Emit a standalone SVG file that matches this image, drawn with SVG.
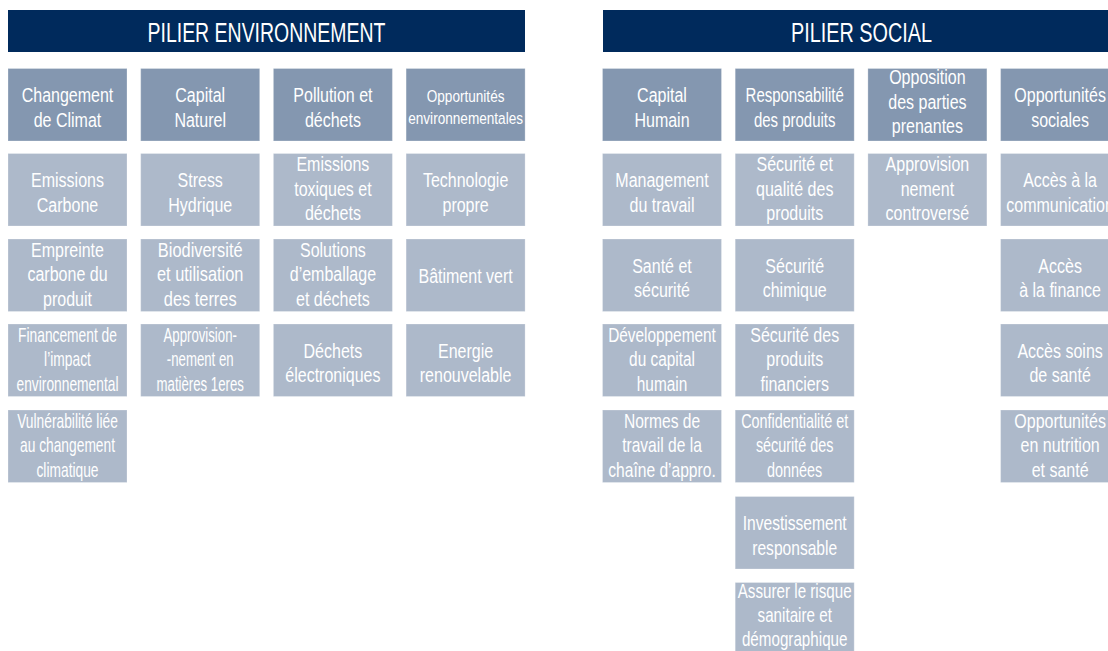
<svg xmlns="http://www.w3.org/2000/svg" width="1108" height="651" viewBox="0 0 1108 651">
<defs>
<style>
.hd{fill:#002a5c}
.d{fill:#8497b0;stroke:#ffffff;stroke-opacity:0.25;stroke-width:1}
.l{fill:#adb9ca;stroke:#ffffff;stroke-opacity:0.25;stroke-width:1}
.h{font-family:"Liberation Sans",Arial,sans-serif;font-size:27px;fill:#ffffff;text-anchor:middle}
.t{font-family:"Liberation Sans",Arial,sans-serif;font-size:20px;fill:#ffffff;text-anchor:middle}
.s{font-family:"Liberation Sans",Arial,sans-serif;font-size:17px;fill:#ffffff;text-anchor:middle}
</style>
</defs>
<rect width="1108" height="651" fill="#ffffff"/>
<g id="connectors"></g>

<g id="hdr-env"><rect class="hd" x="8" y="10" width="517" height="42"/><text class="h" x="266.5" y="41.5" textLength="238" lengthAdjust="spacingAndGlyphs">PILIER ENVIRONNEMENT</text></g>
<g id="hdr-soc"><rect class="hd" x="603" y="10" width="505" height="42"/><text class="h" x="861.5" y="41.5" textLength="141" lengthAdjust="spacingAndGlyphs">PILIER SOCIAL</text></g>

<!-- ENV col 1 -->
<g id="e11"><rect class="d" x="8" y="68.5" width="119" height="72.5"/><text class="t" transform="translate(67.5,0) scale(0.8,1)"><tspan x="0" y="102.5">Changement</tspan><tspan x="0" y="127">de Climat</tspan></text></g>
<g id="e12"><rect class="l" x="8" y="153.5" width="119" height="72.5"/><text class="t" transform="translate(67.5,0) scale(0.8,1)"><tspan x="0" y="187.5">Emissions</tspan><tspan x="0" y="212">Carbone</tspan></text></g>
<g id="e13"><rect class="l" x="8" y="239" width="119" height="72.5"/><text class="t" transform="translate(67.5,0) scale(0.8,1)"><tspan x="0" y="256.75">Empreinte</tspan><tspan x="0" y="281.25">carbone du</tspan><tspan x="0" y="305.75">produit</tspan></text></g>
<g id="e14"><rect class="l" x="8" y="324" width="119" height="72.5"/><text class="t" transform="translate(67.5,0) scale(0.69,1)"><tspan x="0" y="341.75">Financement de</tspan><tspan x="0" y="366.25">l’impact</tspan><tspan x="0" y="390.75">environnemental</tspan></text></g>
<g id="e15"><rect class="l" x="8" y="410" width="119" height="72.5"/><text class="t" transform="translate(67.5,0) scale(0.69,1)"><tspan x="0" y="427.75">Vulnérabilité liée</tspan><tspan x="0" y="452.25">au changement</tspan><tspan x="0" y="476.75">climatique</tspan></text></g>

<!-- ENV col 2 -->
<g id="e21"><rect class="d" x="140.7" y="68.5" width="119" height="72.5"/><text class="t" transform="translate(200.2,0) scale(0.8,1)"><tspan x="0" y="102.5">Capital</tspan><tspan x="0" y="127">Naturel</tspan></text></g>
<g id="e22"><rect class="l" x="140.7" y="153.5" width="119" height="72.5"/><text class="t" transform="translate(200.2,0) scale(0.8,1)"><tspan x="0" y="187.5">Stress</tspan><tspan x="0" y="212">Hydrique</tspan></text></g>
<g id="e23"><rect class="l" x="140.7" y="239" width="119" height="72.5"/><text class="t" transform="translate(200.2,0) scale(0.82,1)"><tspan x="0" y="256.75">Biodiversité</tspan><tspan x="0" y="281.25">et utilisation</tspan><tspan x="0" y="305.75">des terres</tspan></text></g>
<g id="e24"><rect class="l" x="140.7" y="324" width="119" height="72.5"/><text class="t" transform="translate(200.2,0) scale(0.66,1)"><tspan x="0" y="341.75">Approvision-</tspan><tspan x="0" y="366.25">-nement en</tspan><tspan x="0" y="390.75">matières 1eres</tspan></text></g>

<!-- ENV col 3 -->
<g id="e31"><rect class="d" x="273.4" y="68.5" width="119" height="72.5"/><text class="t" transform="translate(332.9,0) scale(0.8,1)"><tspan x="0" y="102.5">Pollution et</tspan><tspan x="0" y="127">déchets</tspan></text></g>
<g id="e32"><rect class="l" x="273.4" y="153.5" width="119" height="72.5"/><text class="t" transform="translate(332.9,0) scale(0.8,1)"><tspan x="0" y="171.25">Emissions</tspan><tspan x="0" y="195.75">toxiques et</tspan><tspan x="0" y="220.25">déchets</tspan></text></g>
<g id="e33"><rect class="l" x="273.4" y="239" width="119" height="72.5"/><text class="t" transform="translate(332.9,0) scale(0.8,1)"><tspan x="0" y="256.75">Solutions</tspan><tspan x="0" y="281.25">d’emballage</tspan><tspan x="0" y="305.75">et déchets</tspan></text></g>
<g id="e34"><rect class="l" x="273.4" y="324" width="119" height="72.5"/><text class="t" transform="translate(332.9,0) scale(0.8,1)"><tspan x="0" y="358">Déchets</tspan><tspan x="0" y="382.5">électroniques</tspan></text></g>

<!-- ENV col 4 -->
<g id="e41"><rect class="d" x="406.1" y="68.5" width="119" height="72.5"/><text class="s" transform="translate(465.6,0) scale(0.8,1)"><tspan x="0" y="102.5">Opportunités</tspan><tspan x="0" y="124.5">environnementales</tspan></text></g>
<g id="e42"><rect class="l" x="406.1" y="153.5" width="119" height="72.5"/><text class="t" transform="translate(465.6,0) scale(0.8,1)"><tspan x="0" y="187.5">Technologie</tspan><tspan x="0" y="212">propre</tspan></text></g>
<g id="e43"><rect class="l" x="406.1" y="239" width="119" height="72.5"/><text class="t" transform="translate(465.6,0) scale(0.8,1)"><tspan x="0" y="283.25">Bâtiment vert</tspan></text></g>
<g id="e44"><rect class="l" x="406.1" y="324" width="119" height="72.5"/><text class="t" transform="translate(465.6,0) scale(0.8,1)"><tspan x="0" y="358">Energie</tspan><tspan x="0" y="382.5">renouvelable</tspan></text></g>

<!-- SOCIAL col 1 -->
<g id="s11"><rect class="d" x="602.5" y="68.5" width="119" height="72.5"/><text class="t" transform="translate(662,0) scale(0.8,1)"><tspan x="0" y="102.5">Capital</tspan><tspan x="0" y="127">Humain</tspan></text></g>
<g id="s12"><rect class="l" x="602.5" y="153.5" width="119" height="72.5"/><text class="t" transform="translate(662,0) scale(0.8,1)"><tspan x="0" y="187.5">Management</tspan><tspan x="0" y="212">du travail</tspan></text></g>
<g id="s13"><rect class="l" x="602.5" y="239" width="119" height="72.5"/><text class="t" transform="translate(662,0) scale(0.8,1)"><tspan x="0" y="273">Santé et</tspan><tspan x="0" y="297.5">sécurité</tspan></text></g>
<g id="s14"><rect class="l" x="602.5" y="324" width="119" height="72.5"/><text class="t" transform="translate(662,0) scale(0.77,1)"><tspan x="0" y="341.75">Développement</tspan><tspan x="0" y="366.25">du capital</tspan><tspan x="0" y="390.75">humain</tspan></text></g>
<g id="s15"><rect class="l" x="602.5" y="410" width="119" height="72.5"/><text class="t" transform="translate(662,0) scale(0.78,1)"><tspan x="0" y="427.75">Normes de</tspan><tspan x="0" y="452.25">travail de la</tspan><tspan x="0" y="476.75">chaîne d’appro.</tspan></text></g>

<!-- SOCIAL col 2 -->
<g id="s21"><rect class="d" x="735.2" y="68.5" width="119" height="72.5"/><text class="t" transform="translate(794.7,0) scale(0.75,1)"><tspan x="0" y="102.5">Responsabilité</tspan><tspan x="0" y="127">des produits</tspan></text></g>
<g id="s22"><rect class="l" x="735.2" y="153.5" width="119" height="72.5"/><text class="t" transform="translate(794.7,0) scale(0.8,1)"><tspan x="0" y="171.25">Sécurité et</tspan><tspan x="0" y="195.75">qualité des</tspan><tspan x="0" y="220.25">produits</tspan></text></g>
<g id="s23"><rect class="l" x="735.2" y="239" width="119" height="72.5"/><text class="t" transform="translate(794.7,0) scale(0.8,1)"><tspan x="0" y="273">Sécurité</tspan><tspan x="0" y="297.5">chimique</tspan></text></g>
<g id="s24"><rect class="l" x="735.2" y="324" width="119" height="72.5"/><text class="t" transform="translate(794.7,0) scale(0.8,1)"><tspan x="0" y="341.75">Sécurité des</tspan><tspan x="0" y="366.25">produits</tspan><tspan x="0" y="390.75">financiers</tspan></text></g>
<g id="s25"><rect class="l" x="735.2" y="410" width="119" height="72.5"/><text class="t" transform="translate(794.7,0) scale(0.72,1)"><tspan x="0" y="427.75">Confidentialité et</tspan><tspan x="0" y="452.25">sécurité des</tspan><tspan x="0" y="476.75">données</tspan></text></g>
<g id="s26"><rect class="l" x="735.2" y="496.5" width="119" height="72.5"/><text class="t" transform="translate(794.7,0) scale(0.78,1)"><tspan x="0" y="530.5">Investissement</tspan><tspan x="0" y="555">responsable</tspan></text></g>
<g id="s27"><rect class="l" x="735.2" y="582.5" width="119" height="72.5"/><text class="t" transform="translate(794.7,0) scale(0.76,1)"><tspan x="0" y="598">Assurer le risque</tspan><tspan x="0" y="622">sanitaire et</tspan><tspan x="0" y="646">démographique</tspan></text></g>

<!-- SOCIAL col 3 -->
<g id="s31"><rect class="d" x="867.9" y="68.5" width="119" height="72.5"/><text class="t" transform="translate(927.4,0) scale(0.8,1)"><tspan x="0" y="84.5">Opposition</tspan><tspan x="0" y="109">des parties</tspan><tspan x="0" y="133.5">prenantes</tspan></text></g>
<g id="s32"><rect class="l" x="867.9" y="153.5" width="119" height="72.5"/><text class="t" transform="translate(927.4,0) scale(0.8,1)"><tspan x="0" y="171.25">Approvision</tspan><tspan x="0" y="195.75">nement</tspan><tspan x="0" y="220.25">controversé</tspan></text></g>

<!-- SOCIAL col 4 -->
<g id="s41"><rect class="d" x="1000.6" y="68.5" width="119" height="72.5"/><text class="t" transform="translate(1060.1,0) scale(0.8,1)"><tspan x="0" y="102.5">Opportunités</tspan><tspan x="0" y="127">sociales</tspan></text></g>
<g id="s42"><rect class="l" x="1000.6" y="153.5" width="119" height="72.5"/><text class="t" transform="translate(1060.1,0) scale(0.8,1)"><tspan x="0" y="187.5">Accès à la</tspan><tspan x="0" y="212">communication</tspan></text></g>
<g id="s43"><rect class="l" x="1000.6" y="239" width="119" height="72.5"/><text class="t" transform="translate(1060.1,0) scale(0.8,1)"><tspan x="0" y="273">Accès</tspan><tspan x="0" y="297.5">à la finance</tspan></text></g>
<g id="s44"><rect class="l" x="1000.6" y="324" width="119" height="72.5"/><text class="t" transform="translate(1060.1,0) scale(0.8,1)"><tspan x="0" y="358">Accès soins</tspan><tspan x="0" y="382.5">de santé</tspan></text></g>
<g id="s45"><rect class="l" x="1000.6" y="410" width="119" height="72.5"/><text class="t" transform="translate(1060.1,0) scale(0.8,1)"><tspan x="0" y="427.75">Opportunités</tspan><tspan x="0" y="452.25">en nutrition</tspan><tspan x="0" y="476.75">et santé</tspan></text></g>
</svg>
